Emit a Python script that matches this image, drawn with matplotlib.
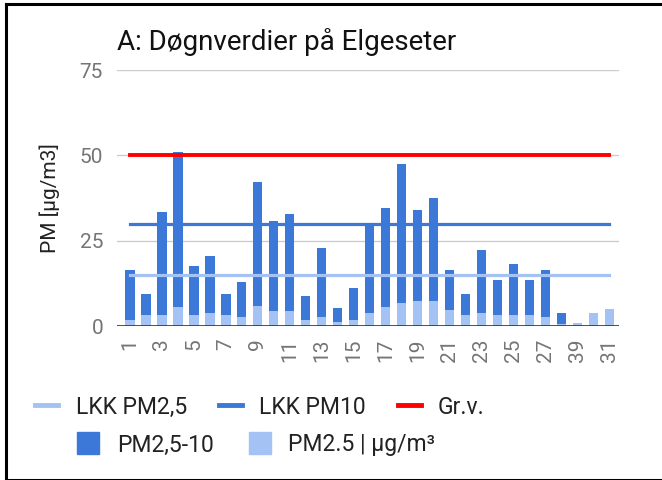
import numpy as np
import matplotlib
matplotlib.use("Agg")
import matplotlib.pyplot as plt
from matplotlib.lines import Line2D

plt.rcParams['font.family'] = ['Roboto', 'DejaVu Sans']

# data
days = [str(d) for d in range(1, 29)] + ["39", "30", "31"]
pm25 = [1.9, 3.1, 3.1, 5.5, 3.1, 3.7, 3.1, 2.5, 6.0, 4.3, 4.3, 1.9, 2.5, 1.3, 1.9, 3.7,
        5.5, 6.6, 7.2, 7.2, 4.8, 3.1, 3.7, 3.1, 3.1, 3.1, 2.5, 0.7, 0.9, 3.7, 4.9]
pm10 = [16.4, 9.4, 33.4, 51.0, 17.6, 20.5, 9.4, 13.0, 42.2, 30.7, 32.8, 8.9, 22.9, 5.3,
        11.1, 29.4, 34.6, 47.5, 34.0, 37.5, 16.5, 9.5, 22.3, 13.5, 18.2, 13.5, 16.5, 3.7,
        0.9, 3.7, 4.9]
pm25_10 = [max(a - b, 0) for a, b in zip(pm10, pm25)]
lkk_pm25 = 15
lkk_pm10 = 30
grv = 50

DARK = "#3c78d8"
LIGHT = "#a4c2f4"
RED = "#ff0000"

W, H = 662, 480
fig = plt.figure(figsize=(W / 100, H / 100), dpi=100)
ax = fig.add_axes([117 / W, 1 - 326 / H, (619 - 117) / W, (326 - 70) / H])

x = np.arange(len(days))
ax.bar(x, pm25, width=0.6, color=LIGHT, zorder=2)
ax.bar(x, pm25_10, bottom=pm25, width=0.6, color=DARK, zorder=2)

ax.plot(x, [lkk_pm25] * len(x), color=LIGHT, lw=2.3, zorder=3)
ax.plot(x, [lkk_pm10] * len(x), color=DARK, lw=2.3, zorder=3)
ax.plot(x, [grv] * len(x), color=RED, lw=2.8, zorder=3)

ax.set_ylim(0, 75)
ax.set_xlim(-0.8, 30.6)
ax.set_yticks([0, 25, 50, 75])
ax.yaxis.grid(True, color="#cccccc", lw=1, zorder=0)
ax.axhline(0, color="#333333", lw=1.2, zorder=4)
for s in ax.spines.values():
    s.set_visible(False)
ax.tick_params(axis='y', length=0, pad=10, labelsize=15, labelcolor="#757575")
ax.set_xticks(x[::2])
ax.set_xticklabels(days[::2], rotation=90, fontsize=15, color="#757575")
ax.tick_params(axis='x', length=0, pad=9)

ax.set_ylabel("PM [µg/m3]", fontsize=15, color="#222222", labelpad=14)
fig.text(117 / W, 1 - 42 / H, "A: Døgnverdier på Elgeseter", fontsize=20,
         color="#111111", va="center", ha="left")

h1 = [Line2D([], [], color=LIGHT, lw=3.5),
      Line2D([], [], color=DARK, lw=3.5),
      Line2D([], [], color=RED, lw=3.5)]
leg1 = fig.legend(h1, ["LKK PM2,5", "LKK PM10", "Gr.v."], ncol=3, frameon=False,
                  loc="center", bbox_to_anchor=(260 / W, 1 - 407 / H), fontsize=16.5,
                  handlelength=1.0, handletextpad=0.75, columnspacing=1.4)
h2 = [Line2D([], [], color=DARK, marker="s", ms=16.5, ls="none"),
      Line2D([], [], color=LIGHT, marker="s", ms=16.5, ls="none")]
leg2 = fig.legend(h2, ["PM2,5-10", "PM2.5 | μg/m³"], ncol=2, frameon=False,
                  loc="center", bbox_to_anchor=(256 / W, 1 - 445 / H), fontsize=16.5,
                  handlelength=1.0, handletextpad=0.75, columnspacing=1.5)
for leg in (leg1, leg2):
    for t in leg.get_texts():
        t.set_color("#222222")

# outer frame
fig.add_artist(Line2D([6 / W, 6 / W], [0, 1 - 4 / H], color="black", lw=2.2))
fig.add_artist(Line2D([6 / W, 1], [1 - 4 / H, 1 - 4 / H], color="black", lw=2.2))
fig.add_artist(Line2D([6 / W, 1], [0.5 / H, 0.5 / H], color="black", lw=2.2))

fig.savefig("out.png", dpi=100)
